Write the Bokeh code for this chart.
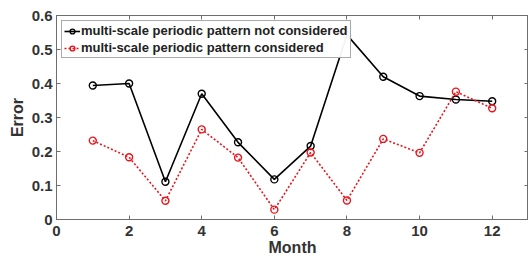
from bokeh.plotting import figure
from bokeh.models import LinearAxis, Range1d, FixedTicker, Legend, LegendItem
from bokeh.embed import file_html
from bokeh.resources import INLINE

months = [1, 2, 3, 4, 5, 6, 7, 8, 9, 10, 11, 12]
err_not_considered = [0.394, 0.400, 0.111, 0.370, 0.227, 0.118, 0.216, 0.543, 0.420, 0.363, 0.353, 0.348]
err_considered = [0.232, 0.183, 0.055, 0.265, 0.182, 0.029, 0.197, 0.056, 0.237, 0.196, 0.376, 0.327]
label_a = "multi-scale periodic pattern not considered"
label_b = "multi-scale periodic pattern considered"
x_ticks = [0, 2, 4, 6, 8, 10, 12]
y_ticks = [0, 0.1, 0.2, 0.3, 0.4, 0.5, 0.6]

FONT = "Liberation Sans"
AX = "#6e6e6e"

p = figure(width=528, height=261, output_backend="svg", toolbar_location=None,
           x_range=Range1d(0, 13), y_range=Range1d(0, 0.6),
           min_border_left=56, min_border_right=0, min_border_top=15, min_border_bottom=42,
           x_axis_label="Month", y_axis_label="Error")
p.grid.visible = False
p.outline_line_color = AX
p.outline_line_width = 1
p.background_fill_color = "white"
p.border_fill_color = "white"

for ax in p.xaxis + p.yaxis:
    ax.axis_line_color = AX
    ax.major_tick_line_color = AX
    ax.major_tick_in = 4
    ax.major_tick_out = 0
    ax.minor_tick_line_color = None
    ax.major_label_text_font = FONT
    ax.major_label_text_font_style = "bold"
    ax.major_label_text_font_size = "15px"
    ax.major_label_text_color = "#333333"
    ax.axis_label_text_font = FONT
    ax.axis_label_text_font_style = "bold"
    ax.axis_label_text_font_size = "16px"
    ax.axis_label_text_color = "#333333"
p.xaxis.ticker = FixedTicker(ticks=x_ticks)
p.yaxis.ticker = FixedTicker(ticks=y_ticks)
p.xaxis.axis_label_standoff = 0
p.yaxis.axis_label_standoff = 3
p.xaxis.major_label_standoff = 6
p.yaxis.major_label_standoff = 4
p.yaxis.major_label_overrides = {0: "0"}

top = LinearAxis(ticker=FixedTicker(ticks=x_ticks), major_label_text_font_size="1px",
                 major_label_text_color=None, axis_label_standoff=0,
                 axis_line_color=None, major_tick_line_color=AX, major_tick_in=4, major_tick_out=0,
                 minor_tick_line_color=None, major_label_standoff=0)
right = LinearAxis(ticker=FixedTicker(ticks=y_ticks), major_label_text_font_size="1px",
                   major_label_text_color=None, axis_label_standoff=0,
                   major_label_overrides={t: "" for t in y_ticks},
                   axis_line_color=None, major_tick_line_color=AX, major_tick_in=4, major_tick_out=0,
                   minor_tick_line_color=None, major_label_standoff=0)
p.add_layout(top, "above")
p.add_layout(right, "right")

l1 = p.line(months, err_not_considered, line_color="black", line_width=1.6)
s1 = p.scatter(months, err_not_considered, marker="circle", size=7, fill_color=None,
               line_color="black", line_width=1.4)
l2 = p.line(months, err_considered, line_color="#e8141b", line_width=1.6, line_dash="2 2")
s2 = p.scatter(months, err_considered, marker="circle", size=7, fill_color=None,
               line_color="#e8141b", line_width=1.4)

legend = Legend(items=[LegendItem(label=label_a, renderers=[l1, s1]),
                       LegendItem(label=label_b, renderers=[l2, s2])],
                location="top_left", label_text_font=FONT, label_text_font_style="bold",
                label_text_font_size="13px", label_text_color="#222222",
                glyph_width=16, glyph_height=12, label_standoff=1, spacing=2,
                padding=2, margin=5, border_line_color="#555555", label_height=12)
p.add_layout(legend)

open("out.html", "w").write(file_html(p, INLINE))
